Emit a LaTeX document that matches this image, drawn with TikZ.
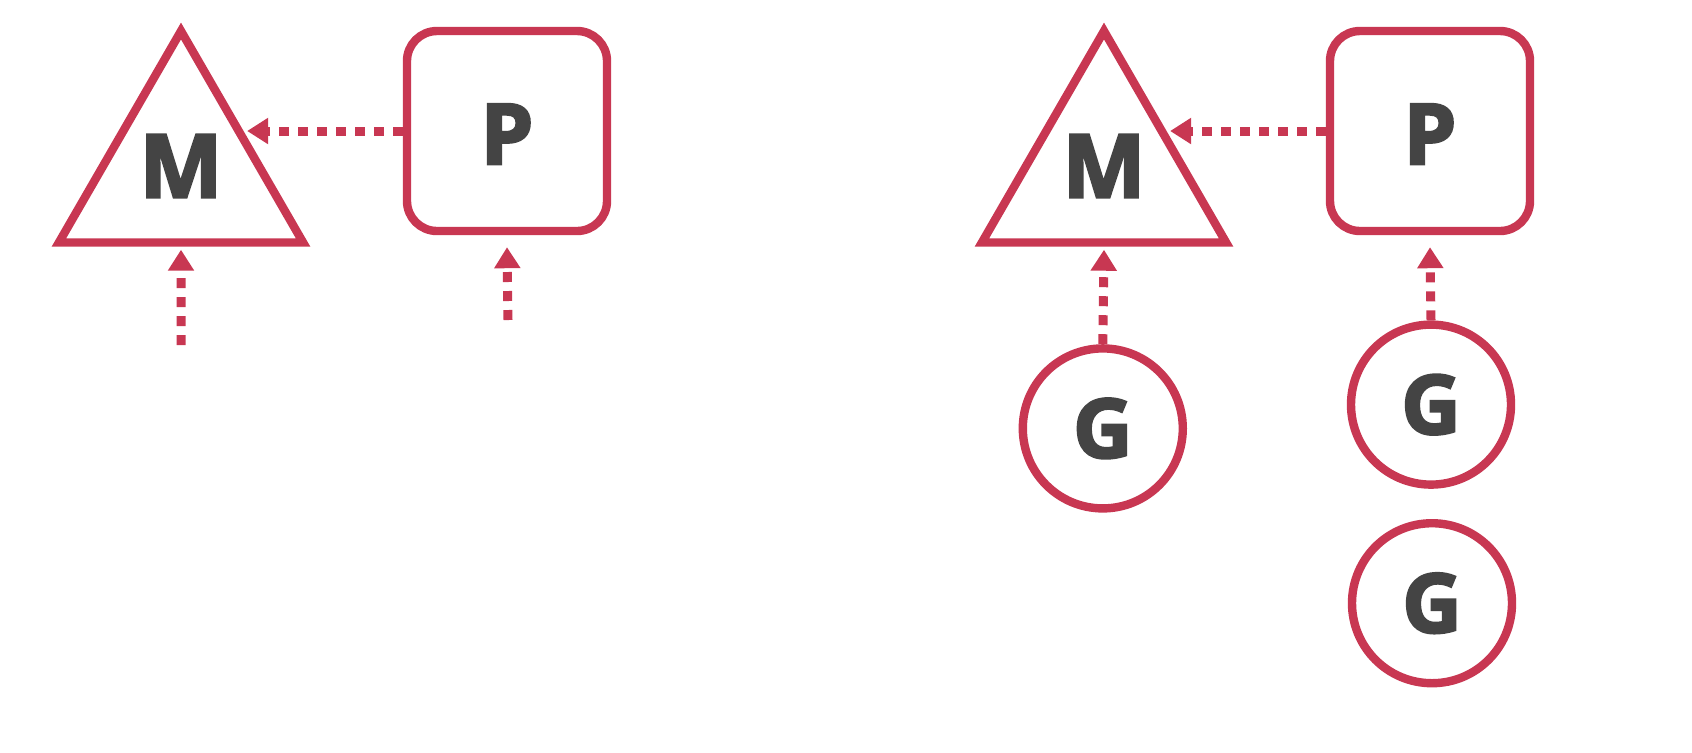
\documentclass[tikz,border=0pt]{standalone}
\usepackage{fontspec}
\setmainfont{Open Sans}
\newfontfamily\heavyfont{Open Sans Bold}[FakeBold=3]
\usetikzlibrary{shapes.geometric,arrows.meta,calc}
\definecolor{gred}{RGB}{200,55,82}
\definecolor{gtext}{RGB}{68,68,68}
\begin{document}
\begin{tikzpicture}[x=1pt,y=1pt,
  shapeline/.style={draw=gred, line width=4.2pt, fill=white, text=gtext},
  tri/.style={shapeline, regular polygon, regular polygon sides=3, minimum size=141pt,
    inner sep=0pt, line join=miter, text depth=6pt,
    font=\heavyfont\fontsize{44pt}{44pt}\selectfont},
  pbox/.style={shapeline, rectangle, rounded corners=15pt, minimum width=100pt,
    minimum height=100pt, inner sep=0pt, text height=33pt, text depth=0pt,
    font=\heavyfont\fontsize{42pt}{42pt}\selectfont},
  gcirc/.style={shapeline, circle, minimum size=80pt, inner sep=0pt,
    font=\heavyfont\fontsize{41pt}{41pt}\selectfont},
  link/.style={draw=gred, line width=4.5pt, dash pattern=on 5pt off 4.5pt,
    -{Triangle[width=12.5pt,length=10.5pt]}}
]
\useasboundingbox (0,0) rectangle (846,-376);

% left group
\node[tri]  (M1) at (90.5,-86) {M};
\node[pbox] (P1) at (253.5,-65.5) {P};
\coordinate (M1r) at ($(M1.corner 1)!0.48!(M1.corner 3)$);
\coordinate (m1s) at (90.5,-172.5);
\coordinate (p1s) at (254,-160);
\draw[link, shorten >=2pt] (P1.west) -- (P1.west -| M1r);
\draw[link] (m1s) -- ([yshift=-1.5pt]M1.south);
\draw[link] (p1s) -- ([yshift=-6pt]P1.south);

% right group
\node[tri]  (M2) at (552,-86) {M};
\node[pbox] (P2) at (715,-65.5) {P};
\node[gcirc] (G1) at (551.4,-214.2) {G};
\node[gcirc] (G2) at (715.5,-202.3) {G};
\node[gcirc] (G3) at (716,-301.6) {G};
\coordinate (M2r) at ($(M2.corner 1)!0.48!(M2.corner 3)$);
\draw[link, shorten >=2pt] (P2.west) -- (P2.west -| M2r);
\draw[link] (G1.north) -- ([yshift=-1.5pt]M2.south);
\draw[link] (G2.north) -- ([yshift=-6pt]P2.south);
\end{tikzpicture}
\end{document}
